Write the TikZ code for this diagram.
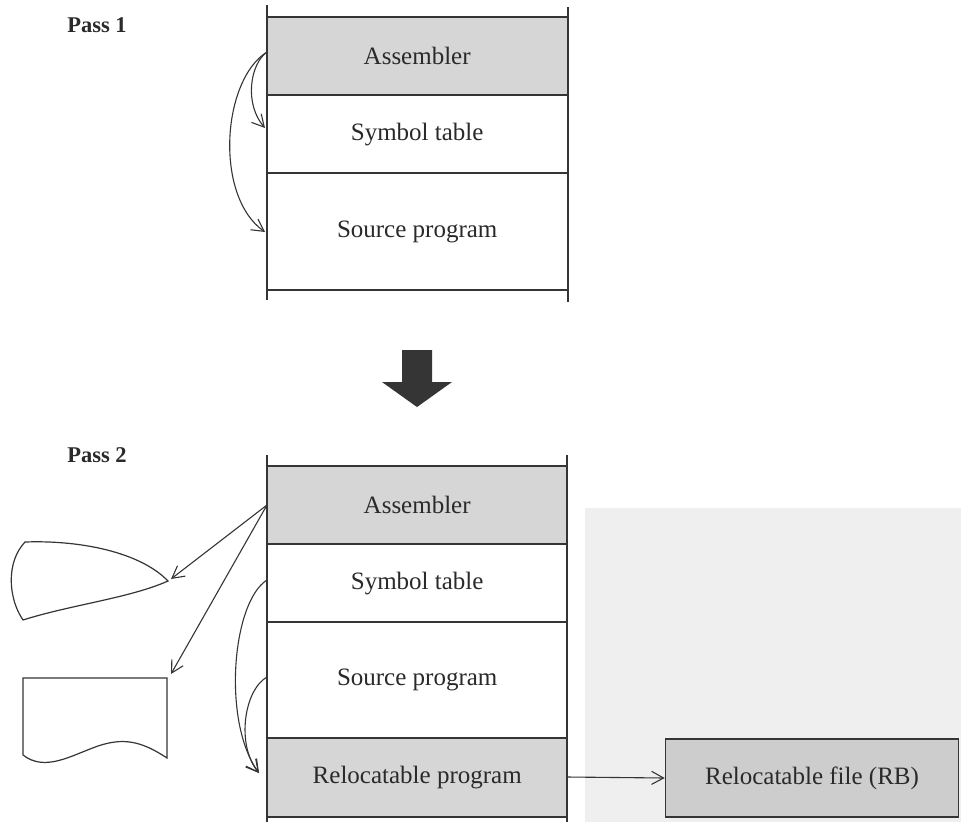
\documentclass[tikz,border=0pt]{standalone}
\usepackage{fontspec}
\setmainfont{Liberation Serif}
\usetikzlibrary{arrows.meta}
\definecolor{ink}{HTML}{353535}
\definecolor{textink}{HTML}{2A2A2A}
\definecolor{shade}{HTML}{D6D6D6}
\definecolor{fileshade}{HTML}{CDCDCD}
\definecolor{pagegrey}{HTML}{EFEFEF}
\tikzset{
  x=1pt, y=-1pt,
  cell/.style={inner sep=0pt, minimum width=300pt, anchor=north west, font=\fontsize{25}{28}\selectfont, text=textink},
  passlabel/.style={font=\fontsize{22.5}{26}\bfseries\selectfont, text=textink},
  rule/.style={draw=ink, line width=1.3pt},
  post/.style={draw=ink, line width=2pt},
  flow/.style={draw=ink, line width=1.1pt, -{Straight Barb[length=12pt,width=13pt,line width=1.1pt]}},
  symbol/.style={draw=ink, line width=1.2pt}
}
\begin{document}
\begin{tikzpicture}
\useasboundingbox (0,0) rectangle (961,822);
\fill[white] (0,0) rectangle (961,822);
% light grey panel behind the output file
\fill[pagegrey] (585,508) rectangle (961,822);

% ---------- Pass 1 ----------
\node[passlabel] (p1) at (97,25) {Pass 1};
\node[cell, fill=shade, minimum height=78pt] (asm1) at (267,17) {Assembler};
\node[cell, minimum height=78pt] (sym1) at (267,95) {Symbol table};
\node[cell, minimum height=117pt] (src1) at (267,173) {Source program};
\foreach \y in {17,95,173,290} \draw[rule] (267,\y) -- (568,\y);
\draw[post] (267,5) -- (267,300);
\draw[post] (568,7) -- (568,302);
\coordinate (o1) at (267,52);
\coordinate (t1a) at (265,128);
\coordinate (t1b) at (265,232);
\draw[flow] (o1) .. controls (250,64) and (244,104) .. (t1a);
\draw[flow] (o1) .. controls (222,80) and (214,196) .. (t1b);

% ---------- transition arrow ----------
\fill[ink] (402,350) -- (432,350) -- (432,382) -- (452,382) -- (417,407) -- (382,382) -- (402,382) -- cycle;

% ---------- Pass 2 ----------
\node[passlabel] (p2) at (97,455) {Pass 2};
\node[cell, fill=shade, minimum height=78pt] (asm2) at (267,466) {Assembler};
\node[cell, minimum height=78pt] (sym2) at (267,544) {Symbol table};
\node[cell, minimum height=116pt] (src2) at (267,622) {Source program};
\node[cell, fill=shade, minimum height=79pt] (rel2) at (267,738) {Relocatable program};
\foreach \y in {466,544,622,738,817} \draw[rule] (267,\y) -- (567,\y);
\draw[post] (267,455) -- (267,822);
\draw[post] (567,455) -- (567,822);

% relocatable output file
\node[draw=ink, line width=1.5pt, fill=fileshade, minimum width=293pt, minimum height=78pt,
      inner sep=0pt, font=\fontsize{25}{28}\selectfont, text=textink] (rb) at (812,778) {Relocatable file (RB)};
\draw[flow] (567,777) -- (rb.west);

% display symbol
\draw[symbol] (25,542) .. controls (80,540) and (140,552) .. (168,581)
  .. controls (130,598) and (70,605) .. (23,620)
  .. controls (8,598) and (6,562) .. (25,542) -- cycle;
\coordinate (disp) at (171,579);
% document symbol
\draw[symbol] (23,678) -- (167,678)
  -- (167,758) .. controls (140,740) and (122,738) .. (98,746)
  .. controls (70,756) and (45,772) .. (23,755) -- cycle;
\coordinate (doc) at (171,674);

% listing and printout from the assembler
\coordinate (o2) at (267,505);
\draw[flow] (o2) -- (disp);
\draw[flow] (o2) -- (doc);

% symbol table and source feed the relocatable program
\coordinate (o3) at (267,580);
\coordinate (o4) at (267,677);
\coordinate (t2) at (259,773);
\draw[flow] (o3) .. controls (232,602) and (222,722) .. (t2);
\draw[flow] (o4) .. controls (244,690) and (236,745) .. (t2);
\end{tikzpicture}
\end{document}
